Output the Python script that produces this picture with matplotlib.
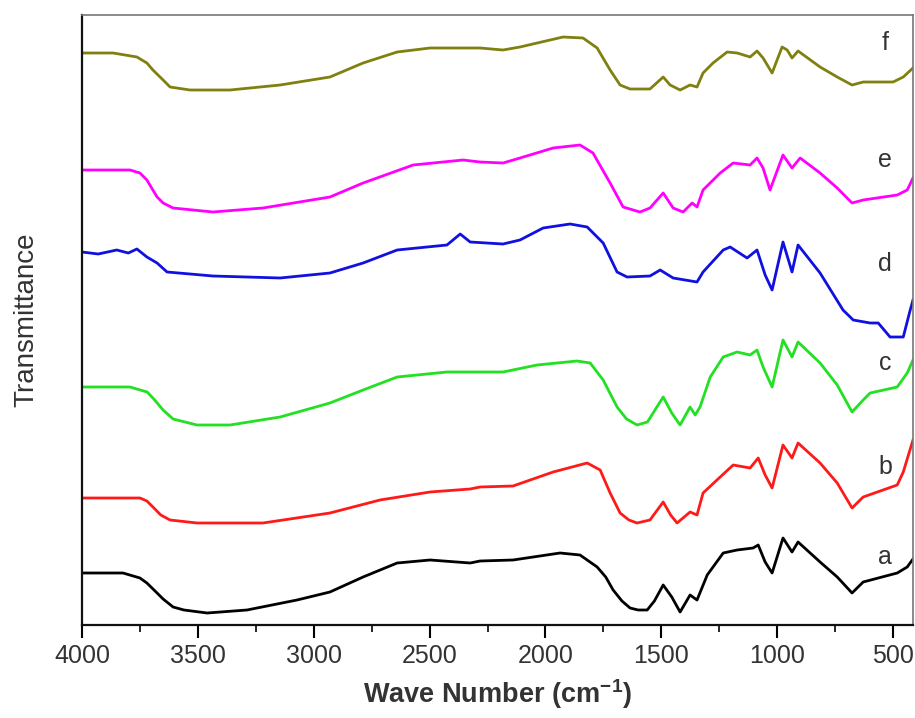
import matplotlib
matplotlib.use("Agg")
import matplotlib.pyplot as plt
from matplotlib.ticker import MultipleLocator

plt.rcParams['font.family'] = ['Liberation Sans', 'DejaVu Sans']

# ---- data (wavenumber in cm^-1, transmittance in arbitrary offset units) ----
wn_a = [4000, 3823, 3750, 3720, 3676, 3650, 3607, 3560, 3460, 3288, 3072, 2930, 2787, 2640, 2498,
        2325, 2282, 2140, 1937, 1851, 1777, 1740, 1708, 1670, 1635, 1600, 1561, 1530, 1492, 1455,
        1419, 1376, 1346, 1302, 1233, 1173, 1104, 1082, 1052, 1022, 975, 936, 910, 815, 741, 677,
        629, 482, 439, 414]
t_a = [52, 52, 47, 42, 32, 26, 18, 15, 12, 15, 25, 33, 48, 62, 65,
       62, 64, 65, 72, 70, 58, 48, 35, 24, 17, 15, 15, 24, 40, 28,
       13, 30, 25, 50, 72, 75, 77, 80, 63, 52, 87, 73, 83, 63, 48, 32,
       43, 52, 58, 66]

wn_b = [4000, 3750, 3720, 3694, 3660, 3620, 3504, 3219, 2930, 2714, 2498, 2325, 2282, 2140, 1967,
        1820, 1764, 1721, 1678, 1640, 1605, 1549, 1492, 1460, 1432, 1376, 1346, 1320, 1246, 1190,
        1117, 1082, 1052, 1022, 975, 936, 910, 815, 741, 677, 629, 482, 456, 414]
t_b = [127, 127, 124, 118, 110, 105, 102, 102, 112, 125, 133, 136, 138, 139, 153,
       162, 155, 132, 112, 105, 102, 105, 123, 110, 102, 113, 110, 132, 148, 160,
       157, 167, 150, 137, 180, 167, 182, 162, 142, 117, 128, 140, 153, 185]

wn_c = [4000, 3793, 3719, 3690, 3650, 3607, 3504, 3361, 3145, 2930, 2787, 2640, 2425, 2282, 2183,
        2036, 1864, 1807, 1751, 1691, 1650, 1605, 1560, 1492, 1455, 1419, 1376, 1354, 1333, 1289,
        1233, 1173, 1117, 1087, 1061, 1022, 975, 936, 910, 815, 741, 677, 629, 599, 482, 439, 414]
t_c = [238, 238, 233, 226, 215, 206, 200, 200, 208, 222, 235, 248, 253, 253, 253,
       260, 264, 262, 245, 218, 206, 200, 203, 228, 212, 200, 218, 210, 218, 248,
       268, 273, 270, 275, 258, 238, 285, 268, 283, 262, 240, 213, 225, 232, 238, 252, 265]

wn_d = [4000, 3930, 3850, 3800, 3763, 3720, 3676, 3633, 3435, 3145, 2930, 2787, 2640, 2425, 2368,
        2325, 2183, 2110, 2010, 1894, 1820, 1751, 1691, 1648, 1549, 1505, 1449, 1346, 1320, 1233,
        1203, 1130, 1087, 1052, 1022, 975, 936, 910, 815, 716, 672, 599, 564, 513, 456, 426, 414]
t_d = [373, 371, 375, 372, 376, 368, 362, 353, 349, 347, 352, 362, 375, 380, 391,
       383, 381, 385, 397, 401, 398, 382, 353, 348, 349, 355, 347, 343, 353, 375,
       378, 367, 375, 350, 335, 383, 353, 380, 352, 315, 305, 302, 302, 288, 288, 315, 325]

wn_e = [4000, 3793, 3750, 3720, 3676, 3650, 3607, 3435, 3219, 2930, 2787, 2571, 2356, 2282, 2183,
        2110, 1967, 1851, 1795, 1721, 1665, 1592, 1549, 1492, 1449, 1406, 1367, 1346, 1320, 1246,
        1190, 1117, 1087, 1061, 1031, 975, 936, 901, 815, 741, 677, 629, 482, 439, 414]
t_e = [455, 455, 452, 445, 428, 422, 417, 413, 417, 428, 442, 460, 465, 463, 462,
       467, 477, 480, 472, 442, 418, 413, 417, 432, 417, 413, 422, 418, 435, 452,
       462, 460, 467, 457, 435, 470, 457, 467, 452, 437, 422, 425, 430, 435, 447]

wn_f = [4000, 3866, 3763, 3720, 3694, 3650, 3620, 3534, 3361, 3145, 2930, 2787, 2640, 2498, 2282,
        2183, 2110, 1924, 1838, 1777, 1721, 1678, 1635, 1549, 1492, 1462, 1419, 1376, 1346, 1320,
        1277, 1216, 1173, 1117, 1087, 1061, 1022, 979, 957, 936, 910, 815, 741, 677, 629, 500,
        456, 414]
t_f = [572, 572, 568, 562, 555, 545, 538, 535, 535, 540, 548, 562, 573, 577, 577,
       575, 578, 588, 587, 577, 555, 540, 536, 536, 548, 540, 535, 540, 538, 552,
       562, 573, 572, 568, 574, 567, 552, 578, 575, 567, 574, 558, 548, 540, 543, 543,
       548, 557]

labels = ['a', 'b', 'c', 'd', 'e', 'f']
label_pos = [68, 158, 262, 361, 465, 582]
colors = ['#000000', '#ff1a1a', '#22e022', '#1010e0', '#ff00ff', '#808010']
series = [(wn_a, t_a), (wn_b, t_b), (wn_c, t_c), (wn_d, t_d), (wn_e, t_e), (wn_f, t_f)]
xticks = [4000, 3500, 3000, 2500, 2000, 1500, 1000, 500]

fig = plt.figure(figsize=(9.15, 7.18), dpi=100)
ax = fig.add_axes([82 / 915, 93 / 718, 831 / 915, 610 / 718])

for (wn, t), c in zip(series, colors):
    ax.plot(wn, t, color=c, lw=2.0, solid_joinstyle='round')

for lab, yv in zip(labels, label_pos):
    ax.text(535, yv, lab, fontsize=18, color='#333333', ha='center', va='center')

ax.set_xlim(4000, 414)
ax.set_ylim(0, 610)
ax.set_xticks(xticks)
ax.xaxis.set_minor_locator(MultipleLocator(250))
ax.set_yticks([])
ax.tick_params(axis='x', which='major', direction='out', length=9, width=1.5,
               labelsize=18, labelcolor='#333333', pad=5)
ax.tick_params(axis='x', which='minor', direction='out', length=5, width=1.2)
ax.tick_params(top=False, right=False)

for side in ['left', 'bottom']:
    ax.spines[side].set_linewidth(1.6)
    ax.spines[side].set_color('#111111')
for side in ['top', 'right']:
    ax.spines[side].set_linewidth(1.2)
    ax.spines[side].set_color('#777777')

ax.set_xlabel('Wave Number (cm$^{\\mathregular{-1}}$)', fontsize=19.5, fontweight='bold',
              color='#333333', labelpad=6)
ax.set_ylabel('Transmittance', fontsize=20, color='#333333', labelpad=31)

fig.savefig('out.png', dpi=100, facecolor='white')
